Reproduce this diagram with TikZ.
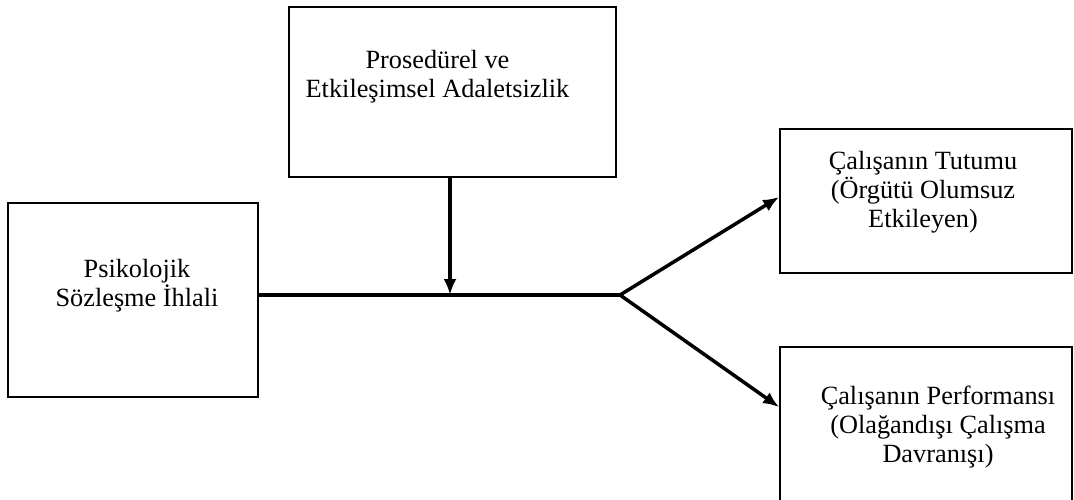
\documentclass[tikz,border=0pt]{standalone}
\usepackage{fontspec}
\setmainfont{Liberation Serif}
\usepackage{tikz}
\usetikzlibrary{arrows.meta}
\usetikzlibrary{positioning}

\begin{document}
\begin{tikzpicture}[x=1pt,y=1pt,box/.style={draw,line width=1.8pt,fill=white,minimum width=292pt},txt/.style={align=center,font=\fontsize{26.3}{28.8}\selectfont},line width=3.5pt,>={Latex[length=16pt,width=13pt]}]
			\useasboundingbox (0,0) rectangle (1074,499);
			
			\node[box,minimum width=327pt,minimum height=170pt,label={[txt,xshift=-15pt,yshift=15pt]center:Prosedürel ve\\Etkileşimsel Adaletsizlik}] (adalet) at (452.5,407) {};
			\node[box,minimum width=250pt,minimum height=194pt,label={[txt,xshift=4pt,yshift=14pt]center:Psikolojik\\Sözleşme İhlali}] (ihlal) at (133,199) {};
			\node[box,minimum height=144pt,label={[txt,xshift=-3pt,yshift=9pt]center:Çalışanın Tutumu\\(Örgütü Olumsuz\\Etkileyen)}] (tutum) at (926,298) {};
			\node[box,minimum height=168pt,label={[txt,xshift=12pt,yshift=4pt]center:Çalışanın Performansı\\(Olağandışı Çalışma\\Davranışı)}] (perf) at (926,68) {};
			
			\coordinate (meet) at (450,204);
			\coordinate (split) at (620,204);
			
			\draw (ihlal.east |- split) -- (split);
			\draw[->] (adalet.south -| meet) -- (meet);
			\draw[->] (split) -- ([yshift=4pt]tutum.west);
			\draw[->] (split) -- ([yshift=-61pt]perf.north west);
			
\end{tikzpicture}
\end{document}
